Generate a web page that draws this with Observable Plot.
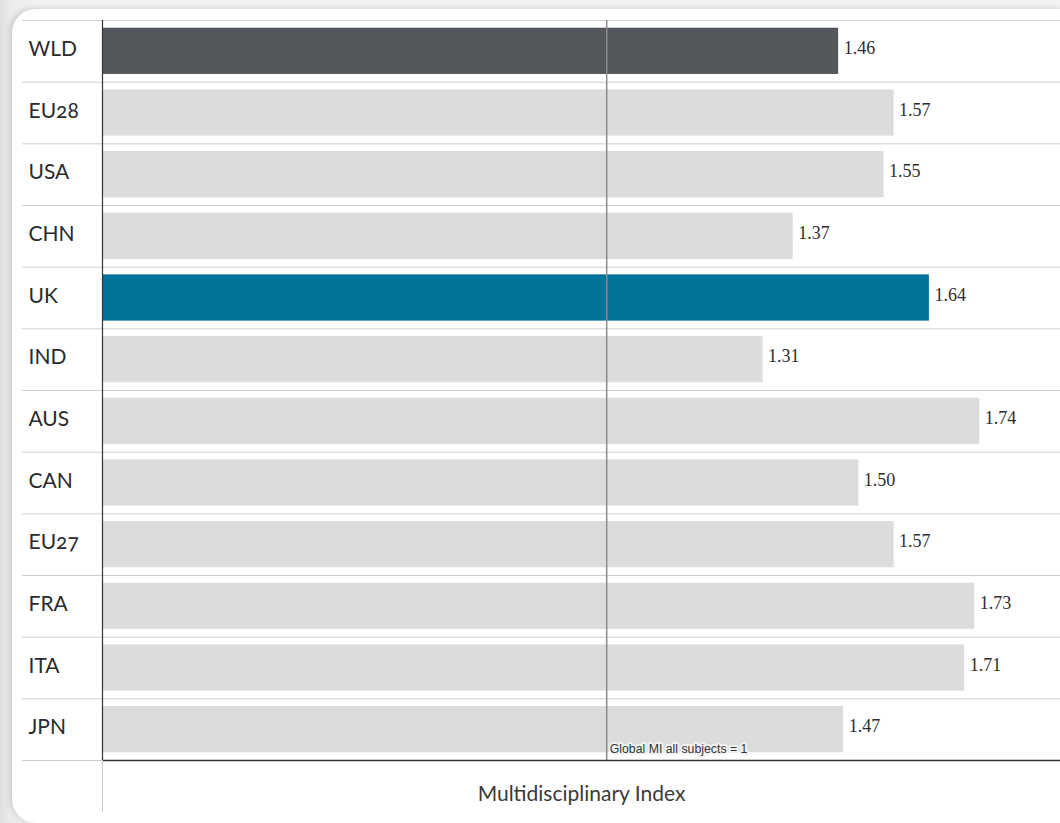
<!DOCTYPE html>
<html>
<head>
<meta charset="utf-8">
<script src="https://cdn.jsdelivr.net/npm/d3@7"></script>
<script src="https://cdn.jsdelivr.net/npm/@observablehq/plot@0.6"></script>
<style>
  html, body { margin: 0; padding: 0; }
  body {
    width: 1060px; height: 823px; overflow: hidden; position: relative;
    background: linear-gradient(90deg, #dedede 0px, #ebebeb 10px, #f2f2f2 40px);
  }
  #card {
    position: absolute; left: 12px; top: 9px; width: 1070px; height: 814px;
    background: #ffffff; border-radius: 24px;
    box-shadow: -3px -1px 5px rgba(0,0,0,0.12);
  }
  #chart { position: absolute; left: 0; top: 0; }
  #chart svg { background: transparent; overflow: visible; }
</style>
</head>
<body>
<div id="card"></div>
<div id="chart"></div>
<script>
const countries = ["WLD","EU28","USA","CHN","UK","IND","AUS","CAN","EU27","FRA","ITA","JPN"];
const miValues  = [1.46, 1.57, 1.55, 1.37, 1.64, 1.31, 1.74, 1.50, 1.57, 1.73, 1.71, 1.47];
const highlight = {WLD: "world", UK: "uk"};
const globalMI = [1];
const refLabel = ["Global MI all subjects = 1"];
const axisTitle = ["Multidisciplinary Index"];

const data = countries.map((c, i) => ({country: c, mi: miValues[i], group: highlight[c] || "other"}));
const lastRow = [{country: countries[countries.length - 1], mi: globalMI[0], text: refLabel[0]}];

const W = 1060, H = 823;
const mTop = 20, mBottom = 63, mLeft = 102;
const step = (H - mTop - mBottom) / countries.length;

const plot = Plot.plot({
  width: W,
  height: H,
  marginLeft: mLeft,
  marginRight: 0,
  marginTop: mTop,
  marginBottom: mBottom,
  style: {background: "transparent", overflow: "visible"},
  x: {domain: [0, 1.9], axis: null},
  y: {domain: countries, paddingInner: 0.25, paddingOuter: 0.125, round: false, axis: null},
  color: {domain: ["world", "uk", "other"], range: ["#54575b", "#007398", "#dcdcdc"]},
  marks: [
    Plot.ruleY(countries, {y: d => d, dy: -step / 2, stroke: "#cfcfcf", strokeWidth: 1, ariaDescription: "rowlines"}),
    Plot.ruleY(countries.slice(-1), {y: d => d, dy: step / 2, stroke: "#cfcfcf", strokeWidth: 1, ariaDescription: "rowlines"}),
    Plot.barX(data, {x: "mi", y: "country", fill: "group"}),
    Plot.ruleX(globalMI, {stroke: "#8c8c8c", strokeWidth: 1.5}),
    Plot.text(lastRow, {
      x: "mi", y: "country", text: "text",
      textAnchor: "start", dx: 3, dy: step / 2 - 11,
      fontFamily: "Liberation Sans, Arial, sans-serif", fontSize: 12.3, fill: "#333",
      stroke: "#f1f1f1", strokeWidth: 4, paintOrder: "stroke"
    }),
    Plot.ruleY(countries.slice(-1), {y: d => d, dy: step / 2, stroke: "#333", strokeWidth: 1.5}),
    Plot.ruleX([0], {stroke: "#333", strokeWidth: 1.2}),
    Plot.ruleX([0], {stroke: "#cfcfcf", strokeWidth: 1, ariaDescription: "yext"}),
    Plot.text(data, {
      x: 0, y: "country", text: "country", textAnchor: "start", dx: -74, dy: -2,
      fontFamily: "Lato, 'Open Sans', sans-serif", fontSize: 21, fill: "#2b2b2b"
    }),
    Plot.text(data, {
      x: "mi", y: "country", text: d => d.mi.toFixed(2), textAnchor: "start", dx: 5, dy: -3,
      fontFamily: "'Liberation Serif', 'DejaVu Serif', serif", fontSize: 18, fill: "#2e2e2e"
    }),
    Plot.text(axisTitle, {
      frameAnchor: "bottom", text: d => d, dy: 40,
      fontFamily: "Lato, 'Open Sans', sans-serif", fontSize: 21, fill: "#3a3a3a"
    })
  ]
});

d3.select(plot).selectAll('g[aria-description="rowlines"] line').attr("x1", 22);
d3.select(plot).selectAll('g[aria-description="yext"] line').attr("y1", H - mBottom).attr("y2", H - 11);
d3.select(plot).selectAll("text").style("font-variant-numeric", "oldstyle-nums");

document.getElementById("chart").appendChild(plot);
</script>
</body>
</html>
